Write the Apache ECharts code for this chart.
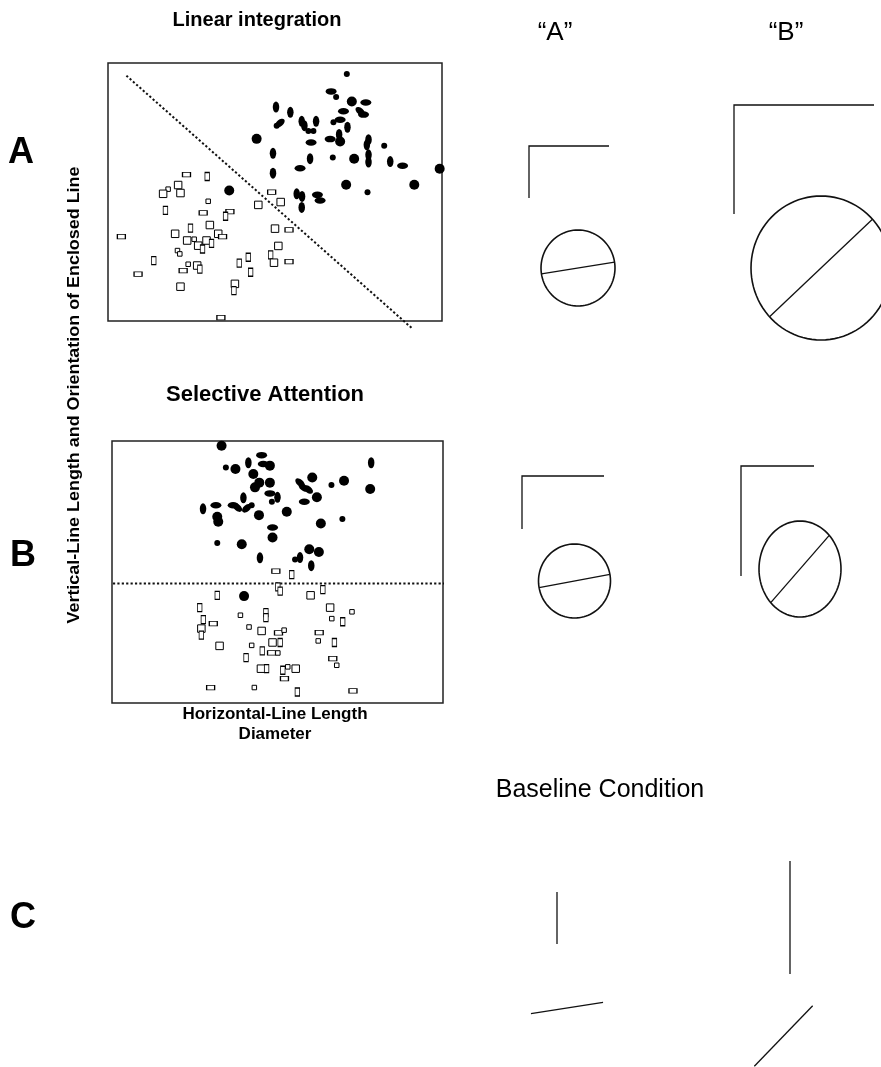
<!DOCTYPE html>
<html>
<head>
<meta charset="utf-8">
<script src="https://cdn.jsdelivr.net/npm/echarts@6/dist/echarts.min.js"></script>
<style>html,body{margin:0;padding:0;background:#fff;}#chart{width:881px;height:1067px;}</style>
</head>
<body>
<div id="chart"></div>
<script>
// ---------------- DATA ----------------
// Scatter points: [x, y, markShape]  (axis units 0-100)
// filled shapes: L large round, S small round, V tall ellipse, H wide ellipse, T tilted "\" , U tilted "/"
// open shapes:   q square, t tall rect, w wide rect, x tiny rect
const linearFilled = [
  [71.5,95.7,'S'],[66.8,89.0,'H'],[68.3,86.8,'S'],[73.0,85.1,'L'],[77.2,84.7,'H'],
  [50.3,82.9,'V'],[54.6,80.9,'V'],[70.5,81.3,'H'],[75.5,81.3,'T'],[76.5,80.0,'H'],
  [51.5,76.7,'U'],[50.5,75.7,'S'],[58.0,77.4,'V'],[58.8,75.7,'V'],[62.3,77.4,'V'],
  [67.5,77.0,'S'],[69.5,78.0,'H'],[71.7,75.1,'V'],[60.0,73.6,'S'],[61.5,73.6,'S'],
  [69.2,72.3,'V'],[44.5,70.6,'L'],[60.8,69.2,'H'],[66.5,70.5,'H'],[69.5,69.6,'L'],
  [78.0,70.3,'V'],[77.5,68.3,'V'],[82.7,67.9,'S'],[49.4,65.0,'V'],[78.0,64.4,'V'],
  [60.5,62.9,'V'],[67.3,63.4,'S'],[73.7,62.9,'L'],[78.0,61.6,'V'],[84.5,61.8,'V'],
  [57.5,59.2,'H'],[88.2,60.2,'H'],[99.3,59.0,'L'],[49.4,57.3,'V'],[71.3,52.8,'L'],
  [91.7,52.8,'L'],[36.3,50.6,'L'],[77.7,49.9,'S'],[56.5,49.3,'V'],[58.1,48.3,'V'],
  [62.7,48.9,'H'],[63.5,46.7,'H'],[58.0,44.0,'V']
];
const linearOpen = [
  [23.5,56.7,'w'],[29.7,56.0,'t'],[21.0,52.7,'q'],[18.0,51.1,'x'],[16.5,49.3,'q'],
  [21.7,49.6,'q'],[49.0,50.0,'w'],[30.0,46.4,'x'],[45.0,45.0,'q'],[51.7,46.1,'q'],
  [17.2,42.9,'t'],[28.5,41.9,'w'],[36.5,42.4,'w'],[35.2,40.6,'t'],[30.5,37.2,'q'],
  [24.7,36.0,'t'],[50.0,35.8,'q'],[54.2,35.3,'w'],[4.0,32.7,'w'],[20.1,33.8,'q'],
  [33.0,33.8,'q'],[34.3,32.7,'w'],[23.7,31.2,'q'],[25.8,31.7,'x'],[29.5,31.2,'q'],
  [31.0,30.1,'t'],[27.0,29.2,'q'],[28.3,27.9,'t'],[51.0,29.1,'q'],[20.8,27.3,'x'],
  [21.5,26.0,'x'],[48.7,25.6,'t'],[13.7,23.4,'t'],[42.0,24.7,'t'],[39.3,22.4,'t'],
  [49.7,22.6,'q'],[54.2,23.0,'w'],[24.0,22.0,'x'],[26.7,21.5,'q'],[27.5,20.1,'t'],
  [22.5,19.5,'w'],[42.7,18.9,'t'],[9.0,18.2,'w'],[38.0,14.4,'q'],[37.7,11.8,'t'],
  [21.7,13.3,'q'],[33.8,1.3,'w']
];
const linearBoundary = [[5.5,95.1],[91.0,-2.8]];

const selectiveFilled = [
  [33.1,98.2,'L'],[45.2,94.6,'H'],[41.2,91.7,'V'],[34.4,89.9,'S'],[37.3,89.3,'L'],
  [45.7,91.2,'H'],[47.7,90.6,'L'],[78.3,91.7,'V'],[42.7,87.4,'L'],[44.5,84.1,'L'],
  [47.7,84.1,'L'],[43.2,82.3,'L'],[56.8,84.1,'T'],[60.5,86.1,'L'],[57.8,82.3,'T'],
  [59.3,81.5,'T'],[66.3,83.2,'S'],[70.1,84.8,'L'],[78.0,81.7,'L'],[47.7,80.0,'H'],
  [50.0,78.5,'V'],[39.7,78.3,'V'],[61.9,78.5,'L'],[48.3,76.8,'S'],[58.1,76.8,'H'],
  [27.5,74.1,'V'],[31.4,75.5,'H'],[36.6,75.5,'H'],[37.9,74.6,'T'],[40.7,74.3,'U'],
  [42.2,75.5,'S'],[44.4,71.7,'L'],[52.8,73.0,'L'],[31.8,71.1,'L'],[32.1,69.2,'L'],
  [63.1,68.5,'L'],[69.6,70.2,'S'],[48.5,67.0,'H'],[48.5,63.2,'L'],[31.8,61.1,'S'],
  [39.2,60.6,'L'],[59.6,58.7,'L'],[62.5,57.6,'L'],[44.7,55.4,'V'],[55.3,54.8,'S'],
  [56.8,55.5,'V'],[60.2,52.4,'V'],[39.9,40.8,'L']
];
const selectiveOpen = [
  [49.5,50.3,'w'],[54.3,49.0,'t'],[50.1,44.3,'t'],[50.8,42.7,'t'],[31.8,41.1,'t'],
  [60.0,41.1,'q'],[63.7,43.3,'t'],[26.5,36.4,'t'],[65.9,36.4,'q'],[72.5,34.8,'x'],
  [38.8,33.5,'x'],[46.5,34.5,'t'],[46.5,32.6,'t'],[27.6,31.8,'t'],[66.4,32.2,'x'],
  [30.6,30.3,'w'],[69.7,31.0,'t'],[27.0,28.4,'q'],[27.0,25.9,'t'],[41.4,29.0,'x'],
  [45.2,27.5,'q'],[50.3,26.8,'w'],[52.0,27.8,'x'],[62.6,26.9,'w'],[48.5,23.1,'q'],
  [50.8,23.1,'t'],[32.5,21.8,'q'],[42.2,22.0,'x'],[62.3,23.7,'x'],[67.2,23.1,'t'],
  [45.4,19.9,'t'],[48.2,19.1,'w'],[50.1,19.1,'x'],[40.5,17.3,'t'],[66.7,16.9,'w'],
  [67.9,14.4,'x'],[45.0,13.1,'q'],[46.7,13.1,'t'],[51.6,12.5,'t'],[53.1,13.8,'x'],
  [55.5,13.1,'q'],[52.1,9.3,'w'],[29.8,5.9,'w'],[43.0,5.9,'x'],[56.0,4.2,'t'],
  [72.8,4.6,'w']
];
const selectiveBoundary = [[-3.7,45.6],[104.6,45.6]];

// Stimulus examples: rows = A (linear), B (selective), C (baseline); cols = "A","B"
const stimHeaders = ['\u201CA\u201D', '\u201CB\u201D'];
const panelLetters = ['A', 'B', 'C'];
const hLineLen = [[80, 140], [82, 73]];
const vLineLen = [[52, 109], [53, 110], [52, 113]];
const circleW = [[74, 140], [72, 82]];
const circleH = [[76, 144], [74, 96]];
const lineAngleDeg = [[9, 43.5], [10.5, 49], [9, 46]];
const baselineLineLen = [73, 84];

// ---------------- LAYOUT ----------------
const FONT = '"Liberation Sans", Arial, Helvetica, sans-serif';
const cornerAnchor = [[[529,146],[734,105]], [[522,476],[741,466]], [[557,892],[790,861]]];
const shapeCenter = [[[578,268],[821,268]], [[574.5,581],[800,569]], [[567,1008],[783.5,1036]]];

const filledStyle = {
  L: {size: 10}, S: {size: 6}, V: {size: [6.5, 11]}, H: {size: [11, 6.5]},
  T: {size: [11, 6.5], rot: -40}, U: {size: [11, 6.5], rot: 40}
};
const openStyle = { q: [7.5, 7.5], t: [4.5, 8], w: [8, 4.5], x: [4.5, 4.5] };

function filledData(arr) {
  return arr.map(p => {
    const s = filledStyle[p[2]];
    return { value: [p[0], p[1]], symbolSize: s.size, symbolRotate: s.rot || 0 };
  });
}
function openData(arr) {
  return arr.map(p => ({ value: [p[0], p[1]], symbolSize: openStyle[p[2]] }));
}

const stimItems = [];
for (let r = 0; r < 3; r++) for (let c = 0; c < 2; c++) stimItems.push([r, c]);

function renderStim(params, api) {
  const [r, c] = stimItems[params.dataIndex];
  const children = [];
  const stroke = {stroke: '#111', fill: 'none', lineWidth: 1.3};
  const a = cornerAnchor[r][c];
  const vl = vLineLen[r][c];
  if (r < 2) {
    const hl = hLineLen[r][c];
    const p0 = api.coord([a[0] + hl, a[1]]);
    const p1 = api.coord([a[0], a[1]]);
    const p2 = api.coord([a[0], a[1] + vl]);
    children.push({type: 'polyline', shape: {points: [p0, p1, p2]}, style: stroke});
    const ctr = shapeCenter[r][c];
    const rx = circleW[r][c] / 2, ry = circleH[r][c] / 2;
    const pts = [];
    for (let k = 0; k <= 96; k++) {
      const t = k / 96 * Math.PI * 2;
      pts.push(api.coord([ctr[0] + rx * Math.cos(t), ctr[1] + ry * Math.sin(t)]));
    }
    children.push({type: 'polygon', shape: {points: pts}, style: {stroke: '#111', fill: 'none', lineWidth: 1.6}});
    const th = lineAngleDeg[r][c] * Math.PI / 180;
    const cs = Math.cos(th), sn = Math.sin(th);
    const rr = 1 / Math.sqrt((cs / rx) * (cs / rx) + (sn / ry) * (sn / ry));
    const e1 = api.coord([ctr[0] - rr * cs, ctr[1] + rr * sn]);
    const e2 = api.coord([ctr[0] + rr * cs, ctr[1] - rr * sn]);
    children.push({type: 'line', shape: {x1: e1[0], y1: e1[1], x2: e2[0], y2: e2[1]}, style: stroke});
  } else {
    const p1 = api.coord([a[0], a[1]]);
    const p2 = api.coord([a[0], a[1] + vl]);
    children.push({type: 'line', shape: {x1: p1[0], y1: p1[1], x2: p2[0], y2: p2[1]}, style: stroke});
    const ctr = shapeCenter[r][c];
    const th = lineAngleDeg[r][c] * Math.PI / 180;
    const half = baselineLineLen[c] / 2;
    const cs = Math.cos(th), sn = Math.sin(th);
    const e1 = api.coord([ctr[0] - half * cs, ctr[1] + half * sn]);
    const e2 = api.coord([ctr[0] + half * cs, ctr[1] - half * sn]);
    children.push({type: 'line', shape: {x1: e1[0], y1: e1[1], x2: e2[0], y2: e2[1]}, style: stroke});
  }
  return {type: 'group', children: children};
}

function txt(text, x, y, font, extra) {
  return Object.assign({
    type: 'text', x: x, y: y,
    style: {text: text, font: font, fill: '#000', align: 'center', verticalAlign: 'middle',
            textAlign: 'center', textVerticalAlign: 'middle'}
  }, extra || {});
}

const hiddenAxis = {type: 'value', show: false, splitLine: {show: false}};
const gridBox = {show: true, borderColor: '#222', borderWidth: 1.5, backgroundColor: 'transparent'};
const boundaryStyle = {color: '#111', width: 2, type: [2.2, 2.2]};

const option = {
  backgroundColor: '#fff',
  animation: false,
  grid: [
    Object.assign({left: 108, top: 63, width: 334, height: 258}, gridBox),
    Object.assign({left: 112, top: 441, width: 331, height: 262}, gridBox),
    {left: 0, top: 0, width: 881, height: 1067, show: false}
  ],
  xAxis: [
    Object.assign({gridIndex: 0, min: 0, max: 100}, hiddenAxis),
    Object.assign({gridIndex: 1, min: 0, max: 100}, hiddenAxis),
    Object.assign({gridIndex: 2, min: 0, max: 881}, hiddenAxis)
  ],
  yAxis: [
    Object.assign({gridIndex: 0, min: 0, max: 100}, hiddenAxis),
    Object.assign({gridIndex: 1, min: 0, max: 100}, hiddenAxis),
    Object.assign({gridIndex: 2, min: 0, max: 1067, inverse: true}, hiddenAxis)
  ],
  series: [
    {type: 'line', xAxisIndex: 0, yAxisIndex: 0, data: linearBoundary, symbol: 'none', clip: false,
     lineStyle: boundaryStyle, silent: true, z: 1},
    {type: 'scatter', xAxisIndex: 0, yAxisIndex: 0, symbol: 'circle', clip: false,
     itemStyle: {color: '#000', opacity: 1}, data: filledData(linearFilled), z: 3},
    {type: 'scatter', xAxisIndex: 0, yAxisIndex: 0, symbol: 'rect', clip: false,
     itemStyle: {color: '#fff', borderColor: '#000', borderWidth: 1, opacity: 1}, data: openData(linearOpen), z: 3},
    {type: 'line', xAxisIndex: 1, yAxisIndex: 1, data: selectiveBoundary, symbol: 'none', clip: false,
     lineStyle: boundaryStyle, silent: true, z: 1},
    {type: 'scatter', xAxisIndex: 1, yAxisIndex: 1, symbol: 'circle', clip: false,
     itemStyle: {color: '#000', opacity: 1}, data: filledData(selectiveFilled), z: 3},
    {type: 'scatter', xAxisIndex: 1, yAxisIndex: 1, symbol: 'rect', clip: false,
     itemStyle: {color: '#fff', borderColor: '#000', borderWidth: 1, opacity: 1}, data: openData(selectiveOpen), z: 3},
    {type: 'custom', xAxisIndex: 2, yAxisIndex: 2, data: stimItems, renderItem: renderStim, silent: true, z: 2}
  ],
  graphic: [
    txt('Linear integration', 257, 20, 'bold 20px ' + FONT),
    txt('Selective Attention', 265, 395, 'bold 22px ' + FONT),
    txt('Horizontal-Line Length', 275, 714, 'bold 17px ' + FONT),
    txt('Diameter', 275, 734, 'bold 17px ' + FONT),
    txt('Vertical-Line Length and Orientation of Enclosed Line', 75, 395, 'bold 16px ' + FONT,
        {rotation: Math.PI / 2, scaleX: 1.12}),
    txt(stimHeaders[0], 555, 33, '26px ' + FONT),
    txt(stimHeaders[1], 786, 33, '26px ' + FONT),
    txt('Baseline Condition', 600, 790, '25px ' + FONT),
    txt(panelLetters[0], 21, 153, 'bold 36px ' + FONT),
    txt(panelLetters[1], 23, 556, 'bold 36px ' + FONT),
    txt(panelLetters[2], 23, 918, 'bold 36px ' + FONT)
  ]
};

const chart = echarts.init(document.getElementById('chart'), null, {renderer: 'canvas'});
chart.setOption(option);
</script>
</body>
</html>
